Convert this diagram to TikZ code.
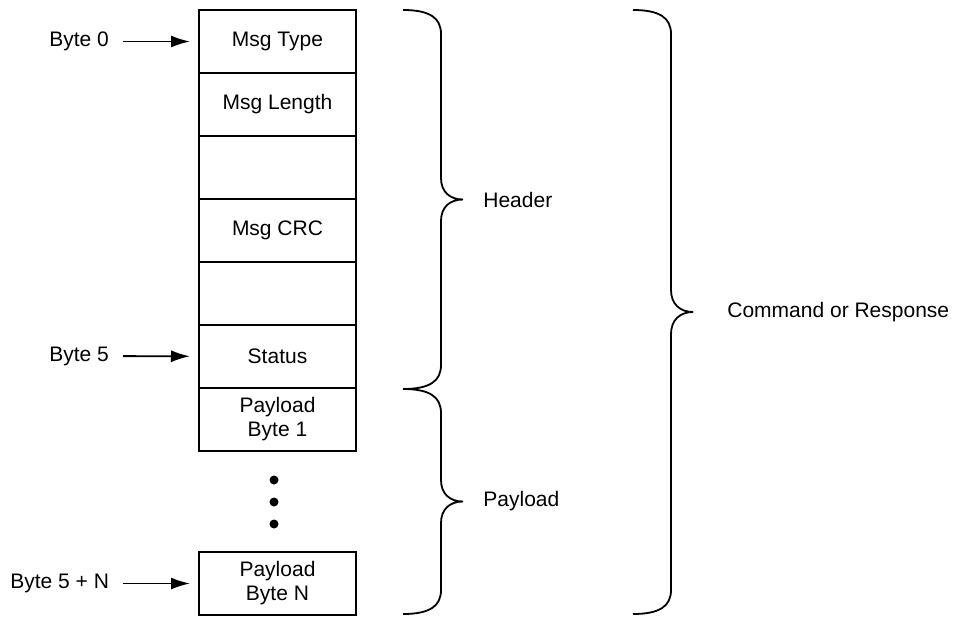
\documentclass[tikz,border=0pt]{standalone}
\usepackage{fontspec}
\setmainfont{Liberation Sans}
\usetikzlibrary{positioning,arrows.meta}

\begin{document}
\begin{tikzpicture}[x=0.5pt,y=-0.5pt,
		field/.style={rectangle, draw, line width=0.9pt, outer sep=0pt, minimum width=78.5pt, minimum height=31.5pt, inner sep=0pt, align=center, font=\fontsize{10.5}{12}\selectfont},
		bytelabel/.style={anchor=east, font=\fontsize{10.5}{12}\selectfont},
		grouplabel/.style={anchor=west, inner sep=0pt, font=\fontsize{10.5}{12}\selectfont},
		pointer/.style={-{Latex[length=9.5pt,width=6pt]}, line width=0.9pt, shorten <=3.5pt, shorten >=4.5pt},
		curl/.style={line width=0.9pt},
		dot/.style={circle, fill, inner sep=0pt, minimum size=4.5pt}]
		\useasboundingbox (0,0) rectangle (953,616);
		
		\node[field] (msgtype) at (277.5,41.5) {Msg Type};
		\node[field, below=0pt of msgtype] (msglength) {Msg Length};
		\node[field, below=0pt of msglength] (empty1) {};
		\node[field, below=0pt of empty1] (msgcrc) {Msg CRC};
		\node[field, below=0pt of msgcrc] (empty2) {};
		\node[field, below=0pt of empty2] (status) {Status};
		\node[field, below=0pt of status] (payload1) {Payload\\Byte 1};
		
		\node[dot] (d1) at (274,480) {};
		\node[dot] (d2) at (274,502) {};
		\node[dot] (d3) at (274,524) {};
		\node[field] (payloadN) at (277.5,583.5) {Payload\\Byte N};
		
		\node[bytelabel] (byte0) at (116,41.5) {Byte 0};
		\node[bytelabel] (byte5) at (116,356) {Byte 5};
		\node[bytelabel] (byte5N) at (116,583.5) {Byte 5 + N};
		\draw[pointer] (byte0) -- (msgtype);
		\draw[pointer] (byte5) -- (status);
		\draw[pointer] (byte5N) -- (payloadN);
		
		% braces
		\draw[curl] (403,10) .. controls (430,10) and (441,18) .. (441,34) -- (441,178)
			.. controls (441,192) and (450,199.5) .. (463,199.5)
			.. controls (450,199.5) and (441,207) .. (441,221) -- (441,365)
			.. controls (441,381) and (430,389) .. (403,389);
		\node[grouplabel] (header) at (483,199.5) {Header};
		
		\draw[curl] (403,389) .. controls (430,389) and (441,397) .. (441,413) -- (441,480)
			.. controls (441,494) and (450,501.5) .. (463,501.5)
			.. controls (450,501.5) and (441,509) .. (441,523) -- (441,590)
			.. controls (441,606) and (430,614) .. (403,614);
		\node[grouplabel] (payload) at (483,501.5) {Payload};
		
		\draw[curl] (633,10) .. controls (660,10) and (671,18) .. (671,34) -- (671,290)
			.. controls (671,304) and (680,312) .. (693,312)
			.. controls (680,312) and (671,320) .. (671,334) -- (671,590)
			.. controls (671,606) and (660,614) .. (633,614);
		\node[grouplabel] (cmdresp) at (727,312) {Command or Response};
		
\end{tikzpicture}
\end{document}
